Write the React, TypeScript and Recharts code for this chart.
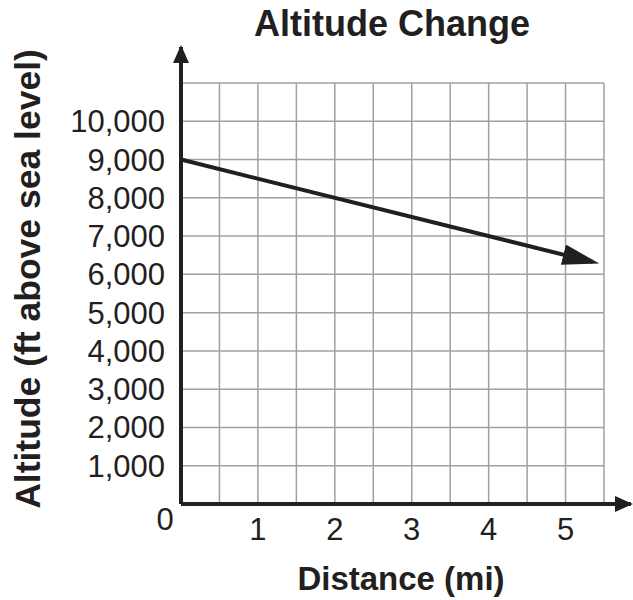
import * as React from "react";
import {
  LineChart,
  Line,
  XAxis,
  YAxis,
  CartesianGrid,
  ReferenceLine,
  Label,
} from "recharts";

// altitude readings along the trail
const distance = [0, 5.35];
const altitude = [9000, 6325];

const xTicks = [0, 0.5, 1, 1.5, 2, 2.5, 3, 3.5, 4, 4.5, 5, 5.5];
const yTicks = [0, 1000, 2000, 3000, 4000, 5000, 6000, 7000, 8000, 9000, 10000, 11000];
const xLabels = ["0", "1", "2", "3", "4", "5"];
const yLabels = ["1,000", "2,000", "3,000", "4,000", "5,000", "6,000", "7,000", "8,000", "9,000", "10,000"];

const data = distance.map((d, i) => ({ distance: d, altitude: altitude[i] }));

const ink = "#231f20";
const font = "'Liberation Sans', Arial, Helvetica, sans-serif";

function XTick(props: any) {
  const { x, y, payload } = props;
  const v = payload.value;
  if (v === 0) {
    return (
      <text x={x - 16} y={y + 26} textAnchor="middle" fill={ink} fontSize={31} fontFamily={font}>
        {xLabels[0]}
      </text>
    );
  }
  if (!Number.isInteger(v) || v > 5) return null;
  return (
    <text x={x} y={y + 36} textAnchor="middle" fill={ink} fontSize={31} fontFamily={font}>
      {xLabels[v]}
    </text>
  );
}

function YTick(props: any) {
  const { x, y, payload } = props;
  const idx = payload.value / 1000 - 1;
  if (idx < 0 || idx >= yLabels.length) return null;
  return (
    <text x={x} y={y} dy={11} textAnchor="end" fill={ink} fontSize={31} fontFamily={font}>
      {yLabels[idx]}
    </text>
  );
}

export default function App() {
  return (
    <div style={{ position: "absolute", left: 0, top: 0, width: 633, height: 600, background: "#fff" }}>
      <svg width={0} height={0} style={{ position: "absolute" }}>
        <defs>
          <marker id="axisArrow" markerUnits="userSpaceOnUse" markerWidth={18} markerHeight={16} refX={16} refY={8} orient="auto">
            <path d="M0,0 L18,8 L0,16 Z" fill={ink} />
          </marker>
          <marker id="lineArrow" markerUnits="userSpaceOnUse" markerWidth={38} markerHeight={22} refX={30} refY={10.5} orient="auto">
            <path d="M0,0 L37,10.5 L0,21 Z" fill={ink} />
          </marker>
        </defs>
      </svg>
      <div
        style={{
          position: "absolute",
          left: 0,
          width: 784,
          top: 4,
          textAlign: "center",
          fontFamily: font,
          fontWeight: "bold",
          fontSize: 36,
          color: ink,
          lineHeight: "40px",
        }}
      >
        Altitude Change
      </div>
      <LineChart width={633} height={600} data={data} margin={{ top: 83, right: 29, bottom: 0, left: 0 }}>
        <CartesianGrid stroke="#a0a0a0" strokeWidth={1.5} />
        <XAxis
          dataKey="distance"
          type="number"
          domain={[0, 5.5]}
          ticks={xTicks}
          interval={0}
          axisLine={false}
          tickLine={false}
          tickSize={0}
          tickMargin={0}
          height={96}
          tick={<XTick />}
        >
          <Label
            content={() => (
              <text x={401} y={590} textAnchor="middle" fill={ink} fontSize={33} fontWeight="bold" fontFamily={font}>
                Distance (mi)
              </text>
            )}
          />
        </XAxis>
        <YAxis
          type="number"
          domain={[0, 11000]}
          ticks={yTicks}
          interval={0}
          width={181}
          axisLine={false}
          tickLine={false}
          tickSize={0}
          tickMargin={16}
          tick={<YTick />}
        >
          <Label
            content={() => (
              <text
                x={40}
                y={279}
                transform="rotate(-90 40 279)"
                textAnchor="middle"
                fill={ink}
                fontSize={35.5}
                fontWeight="bold"
                fontFamily={font}
              >
                Altitude (ft above sea level)
              </text>
            )}
          />
        </YAxis>
        <ReferenceLine
          segment={[{ x: 0, y: 0 }, { x: 5.85, y: 0 }]}
          ifOverflow="visible"
          stroke={ink}
          strokeWidth={4}
          markerEnd="url(#axisArrow)"
        />
        <ReferenceLine
          segment={[{ x: 0, y: 0 }, { x: 0, y: 11940 }]}
          ifOverflow="visible"
          stroke={ink}
          strokeWidth={4}
          markerEnd="url(#axisArrow)"
        />
        <Line
          dataKey="altitude"
          stroke={ink}
          strokeWidth={4}
          dot={false}
          isAnimationActive={false}
          markerEnd="url(#lineArrow)"
        />
      </LineChart>
    </div>
  );
}
